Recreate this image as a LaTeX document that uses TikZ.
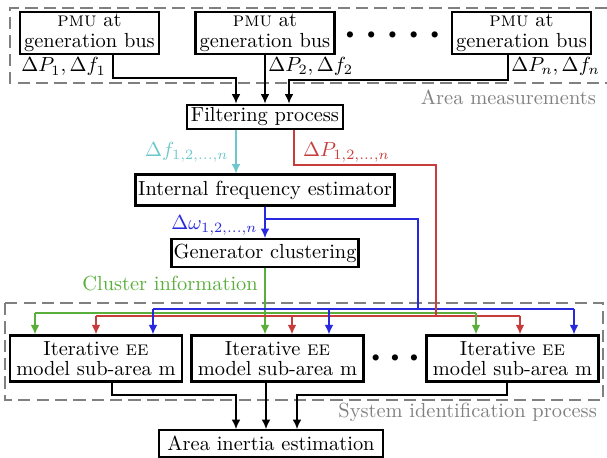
\documentclass[tikz,border=0pt]{standalone}
\usepackage{amssymb}
\usepackage{amsmath}
\usepackage{tikz}
\usetikzlibrary{arrows.meta,shapes}
\definecolor{fcyan}{RGB}{108,200,204}
\definecolor{pred}{RGB}{200,60,60}
\definecolor{wblue}{RGB}{40,40,220}
\definecolor{cgreen}{RGB}{90,175,60}
\definecolor{areagray}{RGB}{128,128,128}

\begin{document}
\begin{tikzpicture}[x=0.49pt,y=-0.49pt,>={Latex[length=4.6pt,width=4.2pt]},
  block/.style={draw,very thick,align=center,inner xsep=2pt,inner ysep=1pt},
  area/.style={draw=areagray,line width=1.4pt,dash pattern=on 6pt off 3pt},
  conn/.style={semithick}]
\useasboundingbox (0,0) rectangle (607,457);

% measurement area
\draw[area] (607,8) -- (10,8) -- (10,83) -- (607,83);
\node[anchor=east,text=areagray] (meas) at (603,97) {Area measurements};

\node[block] (pmu1) at (89.5,33) {\textsc{pmu} at\\[-1.5pt]generation bus};
\node[block] (pmu2) at (265,33) {\textsc{pmu} at\\[-1.5pt]generation bus};
\node[block] (pmun) at (521.5,33) {\textsc{pmu} at\\[-1.5pt]generation bus};
\node (dotsa) at (392.5,35) {\scriptsize$\bullet$\hspace{6.3pt}$\bullet$\hspace{6.3pt}$\bullet$\hspace{6.3pt}$\bullet$\hspace{6.3pt}$\bullet$};

\node[anchor=north west,inner sep=1pt] (m1) at (pmu1.south west) {$\Delta P_1,\Delta f_1$};
\node[anchor=north west,inner sep=1pt] (m2) at (266,55) {$\Delta P_2,\Delta f_2$};
\node[anchor=north west,inner sep=1pt] (mn) at (509,55) {$\Delta P_n,\Delta f_n$};

\node[block,minimum height=12pt] (filter) at (265,117) {Filtering process};
\node[block,minimum height=15pt,inner xsep=1.2pt] (ife) at (265,190) {Internal frequency estimator};
\node[block,minimum height=13.5pt,inner xsep=1pt] (gc) at (265,253) {Generator clustering};

% system identification
\draw[area] (5,303) rectangle (603,400);
\node[anchor=east,text=areagray] (sysid) at (604,412) {System identification process};

\node[block,minimum height=22.5pt,inner xsep=3pt] (ee1) at (96,358.5) {Iterative \textsc{ee}\\[-2pt]model sub-area m};
\node[block,minimum height=22.5pt,inner xsep=3pt] (ee2) at (277.5,358.5) {Iterative \textsc{ee}\\[-2pt]model sub-area m};
\node[block,minimum height=22.5pt,inner xsep=3pt] (een) at (512.5,358.5) {Iterative \textsc{ee}\\[-2pt]model sub-area m};
\node (dotsb) at (395,358) {\scriptsize$\bullet$\hspace{5.3pt}$\bullet$\hspace{5.3pt}$\bullet$};

\node[block,minimum height=13pt,inner xsep=4pt] (inertia) at (271,443.5) {Area inertia estimation};

% pmu to filter
\draw[conn,->] (pmu1.south -| 113,0) |- (236,78) -- (filter.north -| 236,0);
\draw[conn,->] (pmu2.south) -- (filter.north);
\draw[conn,->] (pmun.south -| 508,0) |- (289,80) -- (filter.north -| 289,0);

% frequency
\draw[conn,fcyan,->] (filter.south -| 236,0) -- node[left,pos=0.5] {$\Delta f_{1,2,\ldots,n}$} (ife.north -| 236,0);
% power
\draw[conn,pred] (filter.south -| 294,0) |- (436,165) -- (436,316);
\node[anchor=west,text=pred] (dp) at (296,152) {$\Delta P_{1,2,\ldots,n}$};
% speed
\draw[conn,wblue,->] (ife.south) -- node[left,pos=0.6] {$\Delta\omega_{1,2,\ldots,n}$} (gc.north);
\draw[conn,wblue] (265,219) -| (418,309);
% clusters
\draw[conn,cgreen,->] (gc.south) -- (ee2.north -| 265,0);
\node[anchor=east,text=cgreen] (ci) at (265,284) {Cluster information};

% distribution to sub-areas
\draw[conn,wblue] (153,309) -- (574,309);
\draw[conn,cgreen] (35,313) -- (476,313);
\draw[conn,pred] (96,316) -- (520,316);
\foreach \x in {153,329,574} \draw[conn,wblue,->] (\x,309) -- (ee1.north -| \x,0);
\foreach \x in {35,476} \draw[conn,cgreen,->] (\x,313) -- (ee1.north -| \x,0);
\foreach \x in {96,292,520} \draw[conn,pred,->] (\x,316) -- (ee1.north -| \x,0);
\draw[conn,pred] (436,300) -- (436,316);

% sub-areas to inertia
\draw[conn,->] (ee1.south -| 112,0) |- (236,395) -- (inertia.north -| 236,0);
\draw[conn,->] (ee2.south -| 266,0) -- (inertia.north -| 266,0);
\draw[conn,->] (een.south -| 507,0) |- (297,395) -- (inertia.north -| 297,0);
\end{tikzpicture}
\end{document}
